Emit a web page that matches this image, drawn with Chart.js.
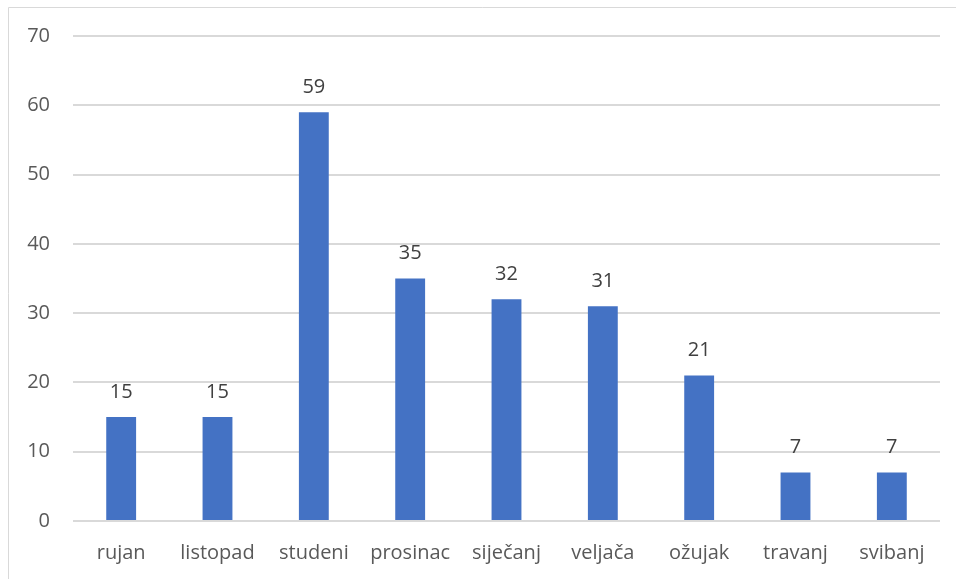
<!DOCTYPE html>
<html>
<head>
<meta charset="utf-8">
<script src="https://cdn.jsdelivr.net/npm/chart.js@4"></script>
<style>
  html, body { margin: 0; padding: 0; background: #fff; }
  #wrap { position: relative; width: 956px; height: 579px; }
</style>
</head>
<body>
<div id="wrap"><canvas id="chart" width="956" height="579"></canvas></div>
<script>
// chart data
const months = ['rujan', 'listopad', 'studeni', 'prosinac', 'siječanj', 'veljača', 'ožujak', 'travanj', 'svibanj'];
const counts = [15, 15, 59, 35, 32, 31, 21, 7, 7];
const yMax = 70;
const yStep = 10;

const FONT = '"Open Sans", "DejaVu Sans", sans-serif';

// draws the value above each bar
const valueLabels = {
    id: 'valueLabels',
    afterDatasetsDraw(chart) {
        const ctx = chart.ctx;
        const meta = chart.getDatasetMeta(0);
        ctx.save();
        ctx.font = '20px ' + FONT;
        ctx.fillStyle = '#404040';
        ctx.textAlign = 'center';
        ctx.textBaseline = 'middle';
        meta.data.forEach((bar, i) => {
            ctx.fillText(String(counts[i]), bar.x, bar.y - 25);
        });
        ctx.restore();
    }
};

// outer frame of the chart object (left and top edges only are visible)
const frame = {
    id: 'frame',
    beforeDraw(chart) {
        const ctx = chart.ctx;
        ctx.save();
        ctx.strokeStyle = '#d9d9d9';
        ctx.lineWidth = 1;
        ctx.beginPath();
        ctx.moveTo(8.5, chart.height);
        ctx.lineTo(8.5, 7.5);
        ctx.lineTo(chart.width, 7.5);
        ctx.stroke();
        ctx.restore();
    }
};

const ctx = document.getElementById('chart').getContext('2d');
new Chart(ctx, {
    type: 'bar',
    data: {
        labels: months,
        datasets: [{
            data: counts,
            backgroundColor: '#4472C4',
            borderWidth: 0,
            categoryPercentage: 1,
            barPercentage: 0.31
        }]
    },
    options: {
        responsive: false,
        animation: false,
        layout: { padding: { left: 0, top: 36, right: 16, bottom: 0 } },
        plugins: {
            legend: { display: false },
            tooltip: { enabled: false }
        },
        scales: {
            x: {
                grid: { display: false },
                border: { display: false },
                ticks: {
                    color: '#595959',
                    font: { family: FONT, size: 20 },
                    padding: 12,
                    maxRotation: 0,
                    autoSkip: false
                },
                afterFit(scale) { scale.height = 58; }
            },
            y: {
                min: 0,
                max: yMax,
                grid: { color: '#d9d9d9', lineWidth: 2, drawTicks: false },
                border: { display: false },
                ticks: {
                    stepSize: yStep,
                    color: '#595959',
                    font: { family: FONT, size: 20 },
                    padding: 23
                },
                afterFit(scale) { scale.width = 73; }
            }
        }
    },
    plugins: [frame, valueLabels]
});
</script>
</body>
</html>
